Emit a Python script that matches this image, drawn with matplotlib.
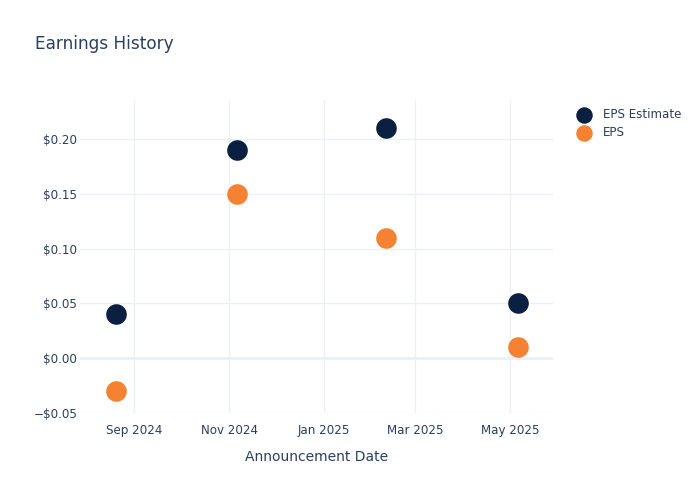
import matplotlib
matplotlib.use('Agg')
import matplotlib.pyplot as plt
import matplotlib.dates as mdates
import matplotlib.ticker as mticker
import numpy as np
from datetime import datetime

# data
dates = [datetime(2024, 8, 20), datetime(2024, 11, 6), datetime(2025, 2, 10), datetime(2025, 5, 6)]
eps_estimate = [0.04, 0.19, 0.21, 0.05]
eps_actual = [-0.03, 0.15, 0.11, 0.01]

txt = '#2a3f5f'
grid = '#ebf0f8'
navy = '#0b1f41'
orange = '#f58233'

plt.rcParams['font.family'] = ['DejaVu Sans']

fig = plt.figure(figsize=(7, 5), dpi=100)
ax = fig.add_axes([80/700, 87/500, 473/700, 313/500])

ax.scatter(dates, eps_estimate, s=220, color=navy, label='EPS Estimate', zorder=3, linewidths=0)
ax.scatter(dates, eps_actual, s=220, color=orange, label='EPS', zorder=3, linewidths=0)

ax.set_xlim(datetime(2024, 7, 27, 22), datetime(2025, 5, 28, 18))
ax.set_ylim(-0.05, 0.2356)

ax.xaxis.set_major_locator(mdates.MonthLocator(bymonth=[1, 3, 5, 7, 9, 11]))
ax.xaxis.set_major_formatter(mdates.DateFormatter('%b %Y'))
ax.yaxis.set_major_locator(mticker.MultipleLocator(0.05))

def money(v, pos):
    if abs(v) < 1e-9:
        return '$0.00'
    if v < 0:
        return '\u2212$%.2f' % abs(v)
    return '$%.2f' % v

ax.yaxis.set_major_formatter(mticker.FuncFormatter(money))

ax.grid(True, color=grid, linewidth=1, zorder=0)
ax.axhline(0, color=grid, linewidth=2, zorder=1)
for s in ax.spines.values():
    s.set_visible(False)
ax.tick_params(length=0, labelsize=8.6, colors=txt)
ax.tick_params(axis='y', pad=2)
ax.tick_params(axis='x', pad=8)

ax.set_xlabel('Announcement Date', fontsize=10, color=txt, labelpad=9.5)
fig.text(35/700, 1 - 44/500, 'Earnings History', fontsize=12.2, color=txt, va='center', ha='left')

leg = ax.legend(loc='upper left', bbox_to_anchor=(1.03, 0.99), frameon=False,
                fontsize=8.6, labelcolor=txt, handletextpad=0.6, borderaxespad=0,
                labelspacing=0.45, markerscale=0.8)

fig.savefig('out.png', dpi=100)
